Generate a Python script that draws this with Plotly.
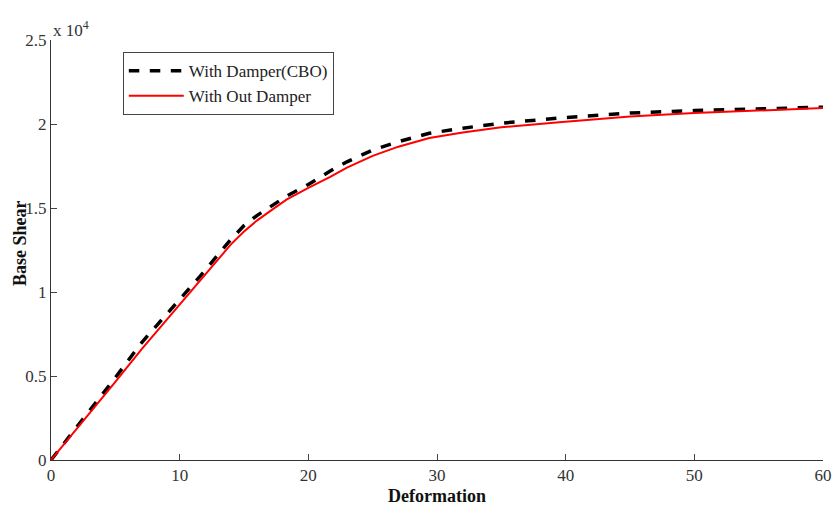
import plotly.graph_objects as go

x_damper = [0, 2, 5, 7, 10, 11.6, 14, 15, 16, 17, 18.3, 20, 21.7, 23, 25, 27, 29.4, 32, 35, 39.5, 45, 50, 55, 60]
y_damper = [0, 1950, 4900, 6950, 9550, 10950, 13150, 13950, 14550, 15050, 15700, 16400, 17200, 17750, 18450, 18950, 19450, 19750, 20050, 20350, 20650, 20800, 20900, 21000]

x_nodamper = [0, 2, 5, 7, 10, 11.6, 14, 15, 16, 17, 18.3, 20, 21.7, 23, 25, 27, 29.4, 32, 35, 39.5, 45, 50, 55, 60]
y_nodamper = [0, 1850, 4650, 6550, 9250, 10700, 12850, 13600, 14250, 14800, 15500, 16200, 16850, 17400, 18100, 18650, 19170, 19500, 19800, 20100, 20450, 20650, 20800, 20950]

x_ticks = [0, 10, 20, 30, 40, 50, 60]
y_ticks = [0, 5000, 10000, 15000, 20000, 25000]
y_ticktext = ["0", "0.5", "1", "1.5", "2", "2.5"]

font = "Liberation Serif"

fig = go.Figure()
fig.add_trace(go.Scatter(x=x_damper, y=y_damper, mode="lines", name="With Damper(CBO)",
                         line=dict(color="black", width=3.5, dash="dash")))
fig.add_trace(go.Scatter(x=x_nodamper, y=y_nodamper, mode="lines", name="With Out Damper",
                         line=dict(color="red", width=2)))

fig.update_layout(
    width=836, height=510,
    margin=dict(l=51, r=13, t=40, b=50),
    paper_bgcolor="white", plot_bgcolor="white",
    font=dict(family=font, size=17, color="#222"),
    showlegend=True,
    legend=dict(x=0.093, y=0.971, xanchor="left", yanchor="top",
                bordercolor="#444", borderwidth=1, bgcolor="white",
                font=dict(family=font, size=17, color="#222"),
                tracegroupgap=0, itemwidth=55),
    xaxis=dict(range=[0, 60], tickvals=x_ticks, ticks="inside", ticklen=6, automargin=False,
               showline=True, linecolor="#333", linewidth=1, showgrid=False, zeroline=False,
               title=dict(text="<b>Deformation</b>", font=dict(family=font, size=18, color="#111"), standoff=4),
               tickfont=dict(family=font, size=17, color="#333")),
    yaxis=dict(range=[0, 25000], tickvals=y_ticks, ticktext=y_ticktext, ticks="inside", ticklen=6, automargin=False,
               showline=True, linecolor="#333", linewidth=1, showgrid=False, zeroline=False,
               tickfont=dict(family=font, size=17, color="#333")),
)

fig.add_annotation(x=-0.04, y=0.517, xref="paper", yref="paper", xanchor="center", yanchor="middle",
                   text="<b>Base Shear</b>", textangle=-90, showarrow=False,
                   font=dict(family=font, size=18, color="#111"))

fig.add_annotation(x=0, y=1, xref="paper", yref="paper", xanchor="left", yanchor="bottom",
                   text="x 10<sup>4</sup>", showarrow=False,
                   font=dict(family=font, size=17, color="#333"), yshift=-2)

fig.write_html("out.html", config={"displayModeBar": False},
               post_script="document.body.style.margin='0';document.body.style.overflow='hidden';")
